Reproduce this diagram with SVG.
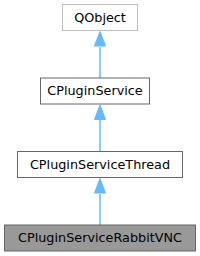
<svg xmlns="http://www.w3.org/2000/svg" width="200" height="256" viewBox="0 0 200 256">
<style>
.n rect{fill:#fff;stroke:#666;stroke-width:1}
.n text{font-family:"DejaVu Sans",sans-serif;font-size:12.8px;fill:#000;text-anchor:middle}
.e{stroke:#63b8ff;stroke-width:1.5;fill:none}
.h{fill:#63b8ff;stroke:#63b8ff;stroke-width:1}
</style>
<rect width="200" height="256" fill="#fff"/>
<g id="connectors">
<path class="e" d="M100,225V194"/><polygon class="h" points="100,178.5 105.5,193 94.5,193"/>
<path class="e" d="M100,151.5V120"/><polygon class="h" points="100,105 105.5,119.5 94.5,119.5"/>
<path class="e" d="M100,78V47"/><polygon class="h" points="100,31.5 105.5,46 94.5,46"/>
</g>
<g id="QObject" class="n"><rect x="62.5" y="4.5" width="75" height="26" style="stroke:#bfbfbf"/><text x="100" y="21.5">QObject</text></g>
<g id="CPluginService" class="n"><rect x="40.5" y="78" width="109" height="26"/><text x="95" y="95">CPluginService</text></g>
<g id="CPluginServiceThread" class="n"><rect x="17.5" y="151.5" width="165" height="26"/><text x="100" y="168.5">CPluginServiceThread</text></g>
<g id="CPluginServiceRabbitVNC" class="n"><rect x="4.5" y="225" width="191" height="26" style="fill:#999"/><text x="100" y="242">CPluginServiceRabbitVNC</text></g>
</svg>
